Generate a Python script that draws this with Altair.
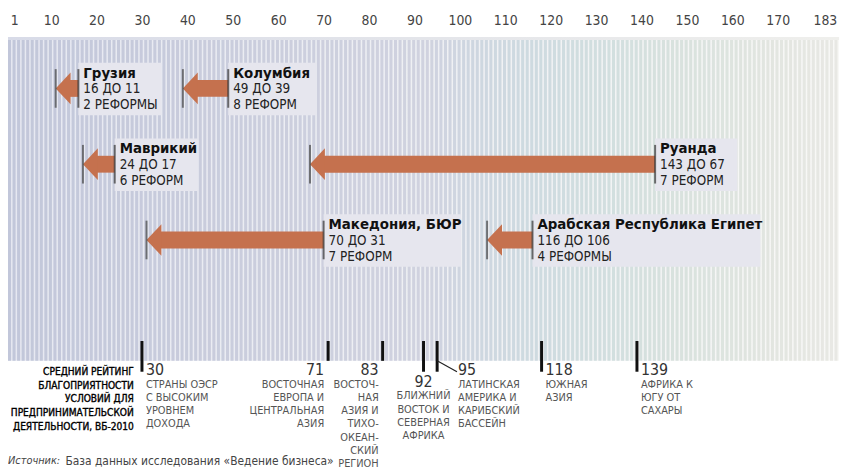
import altair as alt
import pandas as pd

# ---------------- data ----------------
COUNTRIES = ["Грузия", "Колумбия", "Маврикий", "Руанда",
             "Македония, БЮР", "Арабская Республика Египет"]
RANK_FROM = [16, 49, 24, 143, 70, 116]
RANK_TO = [11, 39, 17, 67, 31, 106]
REFORMS = ["2 РЕФОРМЫ", "8 РЕФОРМ", "6 РЕФОРМ", "7 РЕФОРМ", "7 РЕФОРМ", "4 РЕФОРМЫ"]
ROW = [1, 1, 2, 2, 3, 3]

REGION_RANKS = [30, 71, 83, 92, 95, 118, 139]
REGION_NAMES = [
    "СТРАНЫ ОЭСР\nС ВЫСОКИМ\nУРОВНЕМ\nДОХОДА",
    "ВОСТОЧНАЯ\nЕВРОПА И\nЦЕНТРАЛЬНАЯ\nАЗИЯ",
    "ВОСТОЧ-\nНАЯ\nАЗИЯ И\nТИХО-\nОКЕАН-\nСКИЙ\nРЕГИОН",
    "БЛИЖНИЙ\nВОСТОК И\nСЕВЕРНАЯ\nАФРИКА",
    "ЛАТИНСКАЯ\nАМЕРИКА И\nКАРИБСКИЙ\nБАССЕЙН",
    "ЮЖНАЯ\nАЗИЯ",
    "АФРИКА К\nЮГУ ОТ\nСАХАРЫ",
]
N_RANKS = 183
AXIS_VALUES = [1, 10, 20, 30, 40, 50, 60, 70, 80, 90, 100, 110, 120, 130,
               140, 150, 160, 170, 183]
LEFT_TITLE = "СРЕДНИЙ РЕЙТИНГ\nБЛАГОПРИЯТНОСТИ\nУСЛОВИЙ ДЛЯ\nПРЕДПРИНИМАТЕЛЬСКОЙ\nДЕЯТЕЛЬНОСТИ, ВБ-2010"
SOURCE_LABEL = "Источник:"
SOURCE_TEXT = "База данных исследования «Ведение бизнеса»"

# ---------------- layout / style ----------------
W, H = 839, 327
PX_PER_RANK = W / N_RANKS
BOX_W = [84, 89, 84, 83, 139, 230]          # label box widths, px
REGION_LAYOUT = ["left", "right", "right", "center", "leftfar", "left", "left"]
REGION_TICK = ["long", "short", "short", "long", "long", "long", "long"]
FONT = "Liberation Sans Narrow, DejaVu Sans Condensed, Arial Narrow, sans-serif"
ORANGE = "#C5714E"

arrows = pd.DataFrame({
    "country": COUNTRIES, "from": RANK_FROM, "to": RANK_TO,
    "reforms": REFORMS, "row": ROW,
})
arrows["change"] = [f"{a} ДО {b}" for a, b in zip(RANK_FROM, RANK_TO)]
arrows["box_end"] = [f + w / PX_PER_RANK for f, w in zip(RANK_FROM, BOX_W)]

regions = pd.DataFrame({
    "rank": REGION_RANKS, "name": REGION_NAMES,
    "layout": REGION_LAYOUT, "tick": REGION_TICK,
})
regions["label"] = regions["rank"].astype(str)

ranks = pd.DataFrame({"rank": list(range(1, N_RANKS + 1))})
one = pd.DataFrame({"k": [0]})

xs = alt.Scale(domain=[0.5, N_RANKS + 0.5], nice=False, zero=False)
ys = alt.Scale(domain=[0.3203, 4.5948], reverse=True)
AX = alt.Axis(orient="top", values=AXIS_VALUES, domain=False, ticks=False, grid=False,
              labelFlush=5, labelOverlap=False, labelPadding=10, labelFont=FONT,
              labelFontSize=14, labelColor="#444", title=None)

X = lambda f: alt.X(f, scale=xs, axis=AX)
Y = alt.Y("row:Q", scale=ys, axis=None)

bg = alt.Chart(one).mark_rect(
    fill=alt.Gradient(gradient="linear", x1=0, x2=1, y1=0, y2=0,
                      stops=[alt.GradientStop(color="#e6e8f1", offset=0),
                             alt.GradientStop(color="#f8f8f6", offset=1)])
).encode(x=alt.value(0), x2=alt.value(W), y=alt.value(0), y2=alt.value(H))

stripes = alt.Chart(ranks).transform_calculate(
    lo="datum.rank - 0.5", hi="datum.rank + 0.17"
).mark_rect().encode(
    x=X("lo:Q"), x2="hi:Q", y=alt.value(3), y2=alt.value(H),
    color=alt.Color("rank:Q", scale=alt.Scale(domain=[1, 92, 183],
                    range=["#c2c7da", "#d0d2df", "#e8e8e4"]), legend=None),
)

topband = alt.Chart(one).mark_rect(
    fill=alt.Gradient(gradient="linear", x1=0, x2=1, y1=0, y2=0,
                      stops=[alt.GradientStop(color="#d8dbe8", offset=0),
                             alt.GradientStop(color="#efefec", offset=1)])
).encode(x=alt.value(0), x2=alt.value(W), y=alt.value(0), y2=alt.value(3))

base = alt.Chart(arrows)
boxes = base.mark_rect(color="#e6e6ee", yOffset=-26, y2Offset=27).encode(
    x=X("from:Q"), x2="box_end:Q", y=Y, y2="row:Q")
shaft = base.mark_rule(color=ORANGE, strokeWidth=17, x2Offset=14, strokeCap="butt").encode(
    x=X("from:Q"), x2="to:Q", y=Y)
head = base.mark_point(shape="M0,0 L0.94,-1 L0.94,1 Z", size=1024, filled=True,
                       color=ORANGE, opacity=1, strokeWidth=0).encode(x=X("to:Q"), y=Y)
tick_from = base.mark_tick(orient="vertical", size=39, thickness=2, color="#333").encode(
    x=X("from:Q"), y=Y)
tick_to = base.mark_tick(orient="vertical", size=39, thickness=2, color="#444").encode(
    x=X("to:Q"), y=Y)
names = base.mark_text(align="left", baseline="middle", dx=5, dy=-16, font=FONT,
                       fontSize=15, fontWeight="bold", color="#111").encode(
    x=X("from:Q"), y=Y, text="country:N")
line2 = base.mark_text(align="left", baseline="middle", dx=5, dy=1, font=FONT,
                       fontSize=13.5, color="#222").encode(x=X("from:Q"), y=Y, text="change:N")
line3 = base.mark_text(align="left", baseline="middle", dx=5, dy=17, font=FONT,
                       fontSize=13.5, color="#222").encode(x=X("from:Q"), y=Y, text="reforms:N")

rbase = alt.Chart(regions)
rtick_long = rbase.transform_filter("datum.tick == 'long'").mark_rule(
    color="#111", strokeWidth=3).encode(x=X("rank:Q"), y=alt.value(307), y2=alt.value(338))
rtick_short = rbase.transform_filter("datum.tick == 'short'").mark_rule(
    color="#111", strokeWidth=3).encode(x=X("rank:Q"), y=alt.value(307), y2=alt.value(327))
diag = rbase.transform_filter("datum.layout == 'leftfar'").mark_rule(
    color="#222", strokeWidth=1.2, x2Offset=20).encode(
    x=X("rank:Q"), x2="rank:Q", y=alt.value(327), y2=alt.value(338))

GROUPS = {"left": ("left", 4, 0), "leftfar": ("left", 21, 0),
          "right": ("right", -4, 0), "center": ("center", 0, 12)}
region_layers = []
for g, (al, dx, dyy) in GROUPS.items():
    sub = rbase.transform_filter(f"datum.layout == '{g}'")
    region_layers.append(sub.mark_text(align=al, baseline="middle", dx=dx, font=FONT,
                                       fontSize=16, color="#333").encode(
        x=X("rank:Q"), y=alt.value(336 + dyy), text="label:N"))
    region_layers.append(sub.mark_text(align=al, baseline="top", dx=dx, font=FONT,
                                       fontSize=11, color="#555", lineBreak="\n",
                                       lineHeight=13.4).encode(
        x=X("rank:Q"), y=alt.value(345 + dyy), text="name:N"))

left_title = alt.Chart(one).mark_text(
    align="right", baseline="top", font=FONT, fontSize=10.2, fontWeight="normal",
    color="#000", stroke="#000", strokeWidth=0.35, lineBreak="\n", lineHeight=14,
    text=LEFT_TITLE
).encode(x=alt.value(127), y=alt.value(333))

src1 = alt.Chart(one).mark_text(
    align="left", baseline="middle", font=FONT, fontSize=11, fontStyle="italic",
    color="#444", text=SOURCE_LABEL).encode(x=alt.value(0), y=alt.value(428))
src2 = alt.Chart(one).mark_text(
    align="left", baseline="middle", font=FONT, fontSize=12,
    color="#444", text=SOURCE_TEXT).encode(x=alt.value(58), y=alt.value(428))

chart = alt.layer(
    bg, stripes, topband, boxes, shaft, head, tick_from, tick_to, names, line2, line3,
    rtick_long, rtick_short, diag, *region_layers, left_title, src1, src2
).properties(
    width=W, height=H,
    padding={"left": 0, "top": 27, "right": 4, "bottom": 108},
    autosize=alt.AutoSizeParams(type="none"),
).configure_view(stroke=None)

chart.save("out.html", embed_options={"renderer": "svg", "actions": False})
